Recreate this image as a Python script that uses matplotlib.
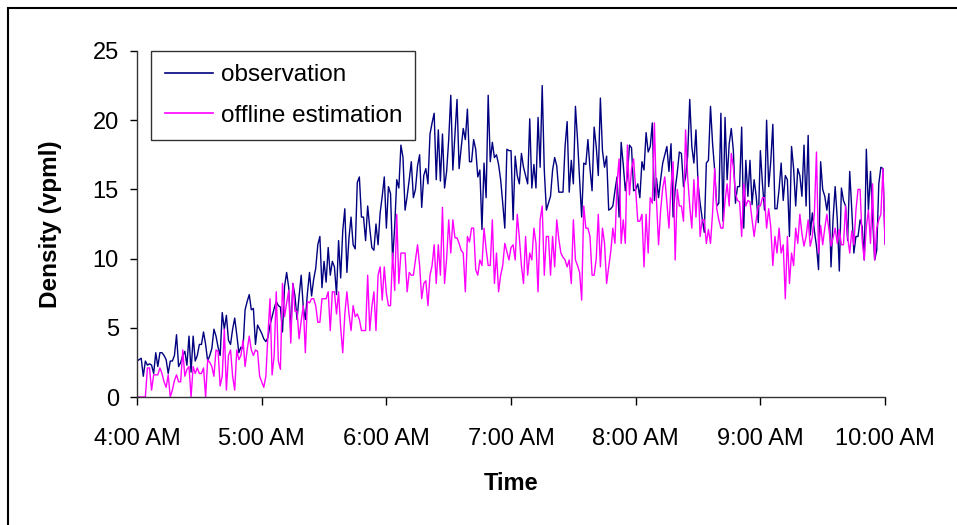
import numpy as np
import matplotlib.pyplot as plt
from matplotlib.patches import Rectangle

# density readings, one per minute from 4:00 AM to 10:00 AM
observation = [
    2.6, 2.7, 2.8, 1.5, 2.6, 2.3, 2.4, 2.3, 1.7, 3.2, 2.2, 3.2, 3.2, 3.0, 2.7, 1.7, 2.6, 2.6, 3.0, 4.5, 2.2, 2.5, 3.0, 3.3, 2.3, 4.4, 1.8, 4.4, 2.6, 3.0,
    3.8, 3.8, 4.7, 3.8, 2.6, 3.0, 3.5, 4.9, 4.4, 3.6, 3.0, 6.1, 4.9, 5.9, 4.1, 3.8, 4.9, 5.7, 4.5, 3.2, 3.6, 3.5, 6.3, 6.9, 7.4, 6.3, 6.4, 3.8, 5.2, 4.9,
    4.6, 4.2, 4.0, 4.3, 5.2, 5.8, 6.4, 6.9, 6.6, 6.5, 4.7, 8.0, 9.0, 7.9, 4.7, 8.2, 7.3, 5.6, 7.3, 8.8, 6.5, 5.6, 7.5, 9.0, 7.3, 8.5, 9.3, 11.0, 11.6, 7.9,
    9.8, 8.3, 10.8, 8.8, 9.8, 9.4, 7.4, 11.3, 8.6, 12.0, 13.6, 9.0, 11.5, 13.0, 11.0, 10.7, 15.5, 15.9, 13.0, 13.0, 11.3, 13.8, 12.2, 10.8, 10.6, 12.5, 11.0, 13.3, 14.5, 15.9,
    12.2, 15.2, 14.7, 9.9, 12.3, 15.7, 15.1, 18.2, 17.3, 13.5, 14.5, 15.7, 17.0, 14.4, 15.0, 16.7, 17.5, 13.7, 16.0, 16.5, 15.4, 19.0, 19.8, 20.5, 15.7, 19.3, 15.6, 19.0, 15.1, 16.3,
    18.6, 21.8, 16.4, 19.0, 21.5, 16.5, 18.0, 19.4, 18.6, 20.8, 17.0, 17.0, 18.6, 17.9, 15.9, 16.4, 12.1, 16.9, 14.4, 21.8, 17.0, 18.4, 17.3, 17.5, 16.8, 15.7, 14.0, 12.2, 17.9, 17.8,
    17.8, 12.8, 17.4, 16.0, 15.4, 17.6, 16.6, 16.0, 15.4, 20.1, 15.1, 16.8, 15.1, 20.2, 16.6, 22.5, 16.4, 13.5, 14.0, 14.5, 16.4, 17.3, 16.7, 14.8, 14.8, 14.8, 18.1, 19.9, 14.8, 17.1,
    15.4, 21.0, 18.6, 15.7, 13.0, 16.9, 16.8, 18.6, 16.5, 14.9, 19.5, 18.1, 16.0, 21.6, 17.8, 16.6, 17.4, 13.5, 13.6, 13.8, 14.9, 15.9, 13.0, 18.4, 16.8, 14.9, 16.0, 18.2, 18.0, 14.9,
    15.0, 15.4, 14.4, 17.0, 16.4, 19.1, 17.7, 18.1, 19.8, 14.2, 15.8, 14.4, 15.7, 16.9, 17.5, 18.1, 16.3, 18.3, 13.0, 15.0, 16.2, 17.7, 17.6, 15.2, 15.9, 17.4, 21.5, 18.1, 16.9, 19.3,
    15.4, 14.0, 12.9, 11.9, 16.9, 17.1, 21.0, 18.3, 16.4, 13.8, 14.0, 20.5, 12.7, 20.2, 15.7, 18.3, 19.4, 17.8, 14.0, 15.2, 15.2, 19.5, 12.2, 17.1, 14.5, 17.1, 13.9, 15.7, 14.5, 12.6,
    17.8, 15.4, 13.5, 20.0, 15.2, 17.0, 19.7, 13.6, 13.6, 15.0, 16.9, 14.2, 16.0, 15.7, 11.6, 18.1, 16.5, 13.8, 16.5, 16.0, 14.5, 18.2, 13.8, 18.9, 11.7, 13.3, 12.0, 10.9, 9.2, 17.0,
    15.0, 14.5, 13.5, 14.7, 9.4, 12.9, 15.2, 12.9, 9.1, 15.1, 14.2, 13.8, 11.3, 16.3, 13.5, 10.4, 11.6, 11.6, 12.8, 12.3, 9.9, 17.9, 13.5, 16.3, 13.0, 9.9, 10.6, 15.4, 16.6, 16.5,
    11.1,
]

offline_estimation = [
    0.0, 0.0, 0.0, 0.0, 0.0, 2.1, 2.1, 0.5, 1.6, 1.6, 1.6, 2.1, 1.7, 1.1, 0.7, 1.6, 0.0, 0.5, 1.2, 1.6, 1.1, 1.1, 3.4, 1.5, 2.0, 2.2, 0.0, 2.2, 1.7, 2.1,
    1.7, 1.7, 2.1, 0.0, 2.7, 2.5, 2.2, 1.5, 3.4, 3.3, 0.8, 1.5, 4.9, 0.5, 3.0, 3.4, 1.5, 0.5, 3.4, 2.7, 3.0, 4.1, 2.2, 3.4, 4.4, 3.4, 3.0, 3.4, 3.3, 1.5,
    1.1, 0.7, 1.5, 4.5, 7.1, 1.6, 3.0, 7.6, 2.6, 2.0, 8.2, 5.8, 6.8, 7.7, 3.9, 8.2, 6.2, 6.2, 4.2, 5.5, 6.6, 3.2, 6.9, 6.8, 7.1, 7.1, 6.6, 5.4, 5.4, 7.1,
    7.1, 7.1, 7.6, 4.8, 7.6, 7.6, 6.0, 7.6, 5.0, 3.2, 6.0, 7.6, 6.0, 4.8, 6.6, 5.8, 6.0, 5.6, 4.8, 4.8, 4.8, 8.8, 4.8, 6.5, 7.6, 4.8, 8.8, 9.4, 7.0, 9.4,
    7.5, 6.6, 6.6, 10.4, 7.7, 13.2, 8.2, 10.4, 10.4, 10.4, 7.6, 9.0, 8.8, 8.8, 9.9, 11.0, 9.5, 7.1, 8.2, 8.4, 6.6, 8.8, 9.5, 11.0, 8.2, 11.0, 8.8, 13.7, 8.2, 10.0,
    12.8, 10.4, 12.8, 11.5, 11.5, 11.1, 10.6, 10.4, 7.6, 11.6, 11.2, 12.2, 12.2, 9.2, 8.8, 9.9, 9.5, 12.2, 10.7, 9.5, 9.5, 12.8, 8.2, 10.4, 7.6, 8.8, 9.5, 11.1, 10.5, 9.9,
    10.8, 11.0, 9.9, 13.2, 11.5, 9.5, 8.2, 11.6, 8.8, 10.4, 9.9, 12.2, 11.1, 7.6, 12.8, 13.8, 8.8, 11.6, 11.6, 8.8, 11.6, 9.4, 12.8, 11.4, 10.4, 10.1, 9.9, 9.4, 9.9, 8.2,
    12.8, 9.9, 9.5, 9.0, 7.0, 13.8, 12.2, 12.2, 11.6, 8.8, 8.8, 10.0, 13.2, 9.4, 12.2, 11.1, 8.2, 9.4, 10.5, 12.2, 11.1, 15.4, 17.2, 11.1, 12.8, 11.1, 18.2, 14.6, 16.5, 17.2,
    15.0, 12.7, 12.7, 13.2, 9.4, 13.2, 10.4, 14.4, 14.0, 19.8, 14.2, 11.0, 13.5, 15.1, 15.9, 14.0, 12.2, 15.2, 17.0, 9.9, 15.0, 13.8, 13.8, 12.7, 19.3, 15.9, 13.8, 12.2, 15.7, 13.0,
    15.9, 11.6, 12.8, 12.8, 11.1, 12.1, 11.1, 13.3, 16.5, 13.6, 12.8, 12.2, 12.2, 14.2, 15.4, 13.8, 17.6, 16.6, 14.7, 14.2, 14.1, 11.6, 15.4, 13.8, 14.2, 14.1, 12.8, 11.6, 12.8, 13.8,
    13.8, 14.4, 14.4, 12.2, 13.6, 12.3, 9.5, 11.6, 10.4, 12.2, 10.4, 11.0, 7.1, 11.6, 8.2, 10.4, 9.5, 12.2, 11.1, 13.2, 11.8, 10.9, 11.6, 12.8, 10.9, 11.6, 13.3, 17.7, 10.4, 12.4,
    11.0, 12.2, 13.2, 12.1, 10.9, 11.5, 12.2, 11.1, 12.1, 11.0, 11.0, 13.8, 11.6, 10.4, 12.0, 11.0, 13.5, 15.0, 15.0, 11.3, 9.9, 12.3, 13.5, 11.1, 15.4, 9.9, 12.2, 12.8, 13.2, 16.5,
    11.0,
]

tick_labels = ['4:00 AM', '5:00 AM', '6:00 AM', '7:00 AM', '8:00 AM', '9:00 AM', '10:00 AM']

plt.rcParams['font.family'] = ['Liberation Sans', 'DejaVu Sans']

minutes = np.arange(len(observation))

fig = plt.figure(figsize=(9.57, 5.25), dpi=100)
ax = fig.add_axes([0.1432, 0.2438, 0.7816, 0.6591])

ax.plot(minutes, observation, color='#000080', lw=1.0, label='observation')
ax.plot(minutes, offline_estimation, color='#FF00FF', lw=1.0, label='offline estimation')

ax.set_xlim(0, 360)
ax.set_ylim(0, 25)
ax.set_xticks(np.arange(0, 361, 60))
ax.set_xticklabels(tick_labels)
ax.set_yticks(np.arange(0, 26, 5))

for s in ['top', 'right']:
    ax.spines[s].set_visible(False)
for s in ['left', 'bottom']:
    ax.spines[s].set_color('#333333')
    ax.spines[s].set_linewidth(1.0)

ax.tick_params(axis='x', direction='out', length=6, width=1.0, pad=16, labelsize=17)
ax.tick_params(axis='y', direction='out', length=5, width=1.0, pad=8, labelsize=17)

ax.set_xlabel('Time', fontsize=17, fontweight='bold', labelpad=16)
ax.set_ylabel('Density (vpml)', fontsize=17.5, fontweight='bold', labelpad=22)

leg = ax.legend(loc='upper left', bbox_to_anchor=(0.019, 1.0), borderaxespad=0,
                fontsize=17.5, frameon=True, fancybox=False, edgecolor='black',
                handlelength=2.0, handletextpad=0.3, borderpad=0.55, labelspacing=0.75)
leg.get_frame().set_linewidth(1.0)
for h in leg.get_lines():
    h.set_linewidth(1.2)

# outer frame of the chart area
fig.patches.append(Rectangle((8 / 957, -0.1), 1.2, 1.1 - 8 / 525, transform=fig.transFigure,
                             fill=False, edgecolor='black', lw=1.5))

fig.savefig('out.png', dpi=100)
